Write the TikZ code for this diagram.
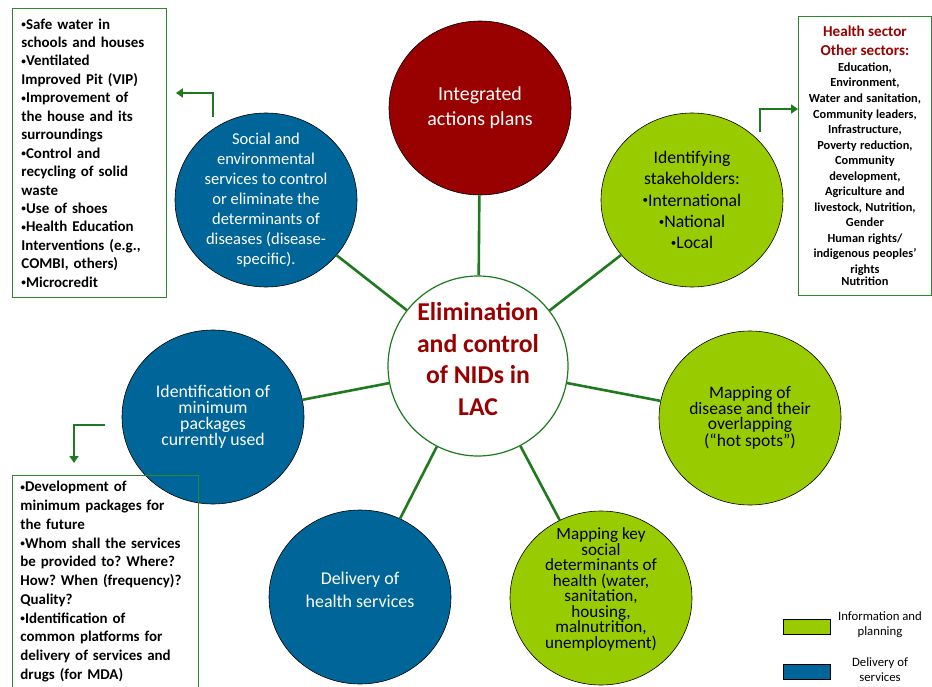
\documentclass[tikz,border=0pt]{standalone}
\usepackage{fontspec}
\setmainfont{Carlito}
\usepackage{xcolor}
\usetikzlibrary{shapes.geometric}
\usetikzlibrary{arrows.meta}
\frenchspacing
\definecolor{planColor}{HTML}{990000}
\definecolor{serviceColor}{HTML}{006699}
\definecolor{infoColor}{HTML}{99CC00}
\definecolor{linkColor}{HTML}{1F7A1F}
\definecolor{boxColor}{HTML}{2E862E}
\definecolor{titleColor}{HTML}{990000}
\newcommand\bul{\raisebox{0.12em}{\scalebox{0.62}{•}}}
\def\textCenter{Elimination\\and control\\of NIDs in\\LAC}
\def\textPlans{Integrated\\actions plans}
\def\textSocial{Social and\\environmental\\services to control\\or eliminate the\\determinants of\\diseases (disease-\\specific).}
\def\textStake{Identifying\\stakeholders:\\\bul International\\\bul National\\\bul Local}
\def\textHot{Mapping of\\disease and their\\overlapping\\(“hot spots”)}
\def\textKeys{Mapping key\\social\\determinants of\\health (water,\\sanitation,\\housing,\\malnutrition,\\unemployment)}
\def\textDelivery{Delivery of\\health services}
\def\textMinimum{Identification of\\minimum\\packages\\currently used}
\def\textSocialBox{\bul Safe water in\\schools and houses\\\bul Ventilated\\Improved Pit (VIP)\\\bul Improvement of\\the house and its\\surroundings\\\bul Control and\\recycling of solid\\waste\\\bul Use of shoes\\\bul Health Education\\Interventions (e.g.,\\COMBI, others)\\\bul Microcredit}
\def\textSectors{{\fontsize{15.2}{19}\selectfont\color{titleColor}Health sector\\Other sectors:\par}\fontsize{12.4}{15.6}\selectfont Education,\\Environment,\\Water and sanitation,\\Community leaders,\\Infrastructure,\\Poverty reduction,\\Community\\development,\\Agriculture and\\livestock, Nutrition,\\Gender\\Human rights/\\indigenous peoples’\\rights\\Nutrition}
\def\textPackages{\bul Development of\\minimum packages for\\the future\\\bul Whom shall the services\\be provided to? Where?\\How? When (frequency)?\\Quality?\\\bul Identification of\\common platforms for\\delivery of services and\\drugs (for MDA)}

\begin{document}
\begin{tikzpicture}[x=1bp,y=-1bp,
bubble/.style={ellipse, draw=black, line width=0.6bp, minimum width=182bp,
minimum height=174bp, inner sep=-30bp, align=center},
listbox/.style={draw=boxColor, line width=0.9bp, anchor=north west, inner ysep=6bp},
link/.style={draw=linkColor, line width=2.6bp},
turnlink/.style={draw=linkColor, line width=2.8bp, -{Triangle[length=7bp,width=9bp]}},
keybox/.style={draw=black, line width=0.8bp, minimum width=47bp, minimum height=15bp, inner sep=0pt}]

\useasboundingbox (0, 0) rectangle (932, 687);

% circle layer
\begin{scope}
\node[circle, draw=linkColor, line width=1.2bp, fill=white, minimum size=180bp, inner sep=-30bp,
align=center, text=titleColor, text depth=14bp, font=\fontsize{25.8}{31.5}\selectfont\bfseries]
(center) at (478, 366) {\textCenter};
\node[bubble, fill=planColor, text=white, font=\fontsize{20}{25}\selectfont]
(plans) at (480, 108) {\textPlans};
\node[bubble, fill=serviceColor, text=white, font=\fontsize{16.6}{20}\selectfont]
(social) at (266, 200) {\textSocial};
\node[bubble, fill=infoColor, text=black, font=\fontsize{17.8}{21.2}\selectfont]
(stake) at (692, 200) {\textStake};
\node[bubble, fill=infoColor, text=black, font=\fontsize{17.6}{15.8}\selectfont]
(hotspots) at (750, 418) {\textHot};
\node[bubble, fill=infoColor, text=black, text depth=20bp, font=\fontsize{17.2}{15.6}\selectfont]
(keys) at (601, 598) {\textKeys};
\node[bubble, fill=serviceColor, text=white, text depth=15bp, font=\fontsize{18}{23}\selectfont]
(delivery) at (360, 597) {\textDelivery};
\node[bubble, fill=serviceColor, text=white, font=\fontsize{17.8}{16.2}\selectfont]
(minimum) at (213, 417) {\textMinimum};
\end{scope}

% link layer
\begin{scope}
\draw[link] (center) -- (plans);
\draw[link] (center) -- (social);
\draw[link] (center) -- (stake);
\draw[link] (center) -- (hotspots);
\draw[link] (center) -- (keys);
\draw[link] (center) -- (delivery);
\draw[link] (center) -- (minimum);
\end{scope}

% box layer
\begin{scope}
\node[listbox, text width=136bp, inner xsep=9bp, minimum height=289bp, align=left,
font=\fontsize{15}{18.5}\selectfont\bfseries]
(socialBox) at (12, 8) {\textSocialBox};
\node[listbox, text width=128bp, inner xsep=2.5bp, inner ysep=2bp, minimum height=279bp,
align=center, font=\bfseries]
(sectorsBox) at (798, 16) {\textSectors};
\node[listbox, text width=170bp, inner xsep=8bp, align=left,
font=\fontsize{15}{18.8}\selectfont\bfseries]
(packagesBox) at (12, 475) {\textPackages};
\end{scope}

% turn layer
\begin{scope}
\coordinate (socialTurn) at (213, 117);
\coordinate (stakeTurn) at (760, 132);
\coordinate (minimumTurn) at (105, 425);
\draw[turnlink, shorten >=9bp] (socialTurn) |- ([yshift=-85bp]socialBox.north east);
\draw[turnlink] (stakeTurn) |- ([yshift=-93bp]sectorsBox.north west);
\draw[turnlink, shorten >=12bp] (minimumTurn) -| ([xshift=62bp]packagesBox.north west);
\end{scope}

% key layer
\begin{scope}
\node[keybox, fill=infoColor] (infoKey) at (806.5, 626.5) {};
\node[keybox, fill=serviceColor] (serviceKey) at (806.5, 671.5) {};
\node[align=center, font=\fontsize{12.8}{15}\selectfont] (infoLabel) at (880, 625)
{Information and\\planning};
\node[align=center, font=\fontsize{12.8}{15}\selectfont] (serviceLabel) at (880, 670)
{Delivery of\\services};
\end{scope}
\end{tikzpicture}
\end{document}
